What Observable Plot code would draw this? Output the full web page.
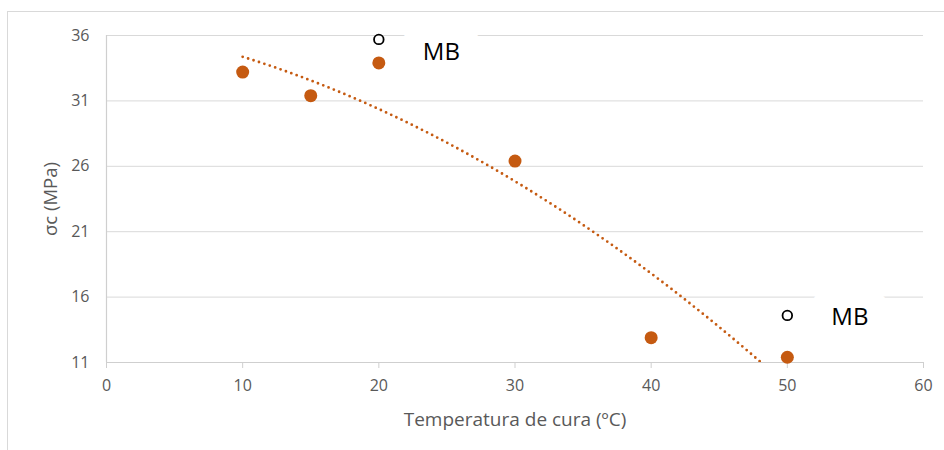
<!DOCTYPE html>
<html>
<head>
<meta charset="utf-8">
<script src="https://cdn.jsdelivr.net/npm/d3@7"></script>
<script src="https://cdn.jsdelivr.net/npm/@observablehq/plot@0.6"></script>
<style>
  html, body { margin: 0; padding: 0; background: #fff; }
  #wrap { position: relative; width: 944px; height: 450px; overflow: hidden; }
  #frame { position: absolute; left: 7px; top: 11px; width: 960px; height: 460px;
           border-left: 1.5px solid #d9d9d9; border-top: 1.5px solid #d9d9d9; pointer-events: none; }
  #chart { position: absolute; left: 0; top: 0; }
  #chart g[aria-label$="tick label"], #chart g[aria-label$="tick label"] text { font-size: 16px; }
</style>
</head>
<body>
<div id="wrap"><div id="chart"></div><div id="frame"></div></div>
<script>
// Data
const temps = [10, 15, 20, 30, 40, 50];
const sigma = [33.2, 31.4, 33.9, 26.4, 12.9, 11.4];
const mbTemps = [20, 50];
const mbSigma = [35.7, 14.6];
const mbText = ["MB", "MB"];
const xTicks = [0, 10, 20, 30, 40, 50, 60];
const yTicks = [11, 16, 21, 26, 31, 36];
const xTitle = "Temperatura de cura (ºC)";
const yTitle = "σc (MPa)";

const points = temps.map((t, i) => ({x: t, y: sigma[i]}));
const mb = mbTemps.map((t, i) => ({x: t, y: mbSigma[i], text: mbText[i]}));

// Polynomial (order 2) least-squares trendline of the filled series, as in the spreadsheet
function quadFit(xs, ys) {
  const n = xs.length;
  let S = [0, 0, 0, 0, 0], T = [0, 0, 0];
  for (let i = 0; i < n; i++) {
    let p = 1;
    for (let k = 0; k <= 4; k++) { S[k] += p; if (k <= 2) T[k] += p * ys[i]; p *= xs[i]; }
  }
  const A = [[S[0], S[1], S[2], T[0]], [S[1], S[2], S[3], T[1]], [S[2], S[3], S[4], T[2]]];
  for (let c = 0; c < 3; c++) {
    for (let r = c + 1; r < 3; r++) {
      const f = A[r][c] / A[c][c];
      for (let k = c; k < 4; k++) A[r][k] -= f * A[c][k];
    }
  }
  const coef = [0, 0, 0];
  for (let r = 2; r >= 0; r--) {
    let s = A[r][3];
    for (let k = r + 1; k < 3; k++) s -= A[r][k] * coef[k];
    coef[r] = s / A[r][r];
  }
  return coef;
}
const [c0, c1, c2] = quadFit(temps, sigma);
const xMin = d3.min(temps), xMax = d3.max(temps);
const trend = d3.range(xMin, xMax + 0.001, 0.25).map(x => ({x, y: c0 + c1 * x + c2 * x * x}));

const orange = "#c55a11";
const grey = "#595959";
const font = "'Open Sans', sans-serif";

const chart = Plot.plot({
  width: 944,
  height: 450,
  marginLeft: 106,
  marginRight: 21,
  marginTop: 35,
  marginBottom: 88,
  style: {background: "transparent", fontFamily: font, fontSize: "16px", color: grey, overflow: "visible"},
  x: {domain: [0, 60]},
  y: {domain: [11, 36]},
  marks: [
    Plot.gridY(yTicks, {stroke: "#d9d9d9", strokeOpacity: 1, strokeWidth: 1}),
    Plot.ruleY([11], {stroke: "#cfcfcf", strokeWidth: 1.2}),
    Plot.ruleX([0], {stroke: "#cfcfcf", strokeWidth: 1.2}),
    Plot.axisX({ticks: xTicks, tickSize: 6, tickPadding: 11, stroke: "#cfcfcf", fill: grey, label: null}),
    Plot.axisY({ticks: yTicks, tickSize: 0, tickPadding: 17, fill: grey, label: null}),
    Plot.text([xTitle], {frameAnchor: "bottom", dy: 57, text: d => d, fill: grey, fontSize: 19,
      textAnchor: "middle", lineAnchor: "middle"}),
    Plot.text([yTitle], {frameAnchor: "left", dx: -55, rotate: -90, text: d => d, fill: grey, fontSize: 18.5,
      textAnchor: "middle", lineAnchor: "middle"}),
    Plot.line(trend, {x: "x", y: "y", stroke: orange, strokeWidth: 2.8, strokeDasharray: "0,5.7",
      strokeLinecap: "round", clip: true}),
    Plot.dot(points, {x: "x", y: "y", r: 6.5, fill: orange, stroke: "none"}),
    Plot.text(mb.filter(d => d.x === 20), {x: "x", y: "y", text: "text", textAnchor: "start", dx: 44, dy: 13,
      fill: "black", fontSize: 24, stroke: "white", strokeWidth: 44, strokeLinejoin: "round", paintOrder: "stroke"}),
    Plot.text(mb.filter(d => d.x === 50), {x: "x", y: "y", text: "text", textAnchor: "start", dx: 44, dy: 2,
      fill: "black", fontSize: 24, stroke: "white", strokeWidth: 44, strokeLinejoin: "round", paintOrder: "stroke"}),
    Plot.dot(mb, {x: "x", y: "y", r: 4.8, fill: "white", stroke: "black", strokeWidth: 1.8})
  ]
});
document.getElementById("chart").appendChild(chart);
</script>
</body>
</html>
